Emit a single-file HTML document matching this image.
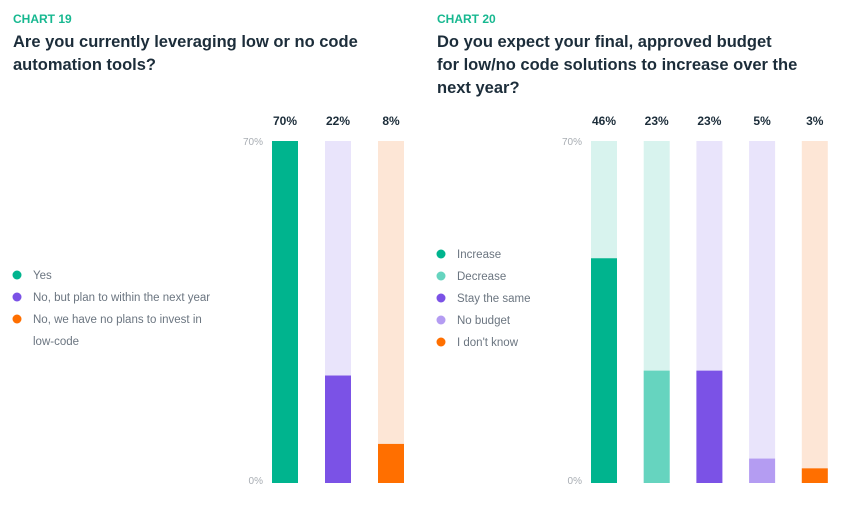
<!DOCTYPE html>
<html><head><meta charset="utf-8"><style>
body{margin:0;background:#fff;}
svg{display:block;font-family:"Liberation Sans",sans-serif;}
</style></head><body>
<svg id="s" width="865" height="510">
<text x="13" y="23" font-size="12" font-weight="bold" fill="#17b890">CHART 19</text>
<text x="13" y="47" font-size="16.5" font-weight="bold" fill="#1c2d3a">Are you currently leveraging low or no code</text>
<text x="13" y="70" font-size="16.5" font-weight="bold" fill="#1c2d3a">automation tools?</text>
<text x="437" y="23" font-size="12" font-weight="bold" fill="#17b890">CHART 20</text>
<text x="437" y="47" font-size="16.5" font-weight="bold" fill="#1c2d3a">Do you expect your final, approved budget</text>
<text x="437" y="70" font-size="16.5" font-weight="bold" fill="#1c2d3a">for low/no code solutions to increase over the</text>
<text x="437" y="93" font-size="16.5" font-weight="bold" fill="#1c2d3a">next year?</text>
</svg>
<script>
const c19Categories=["Yes","No, but plan to within the next year","No, we have no plans to invest in low-code"];
const c19Values=[70,22,8];
const c20Categories=["Increase","Decrease","Stay the same","No budget","I don't know"];
const c20Values=[46,23,23,5,3];
const axisMax=70;
const axisTicks=["70%","0%"];

const svg=document.getElementById('s');
const NS='http://www.w3.org/2000/svg';
function mk(tag,attrs){const e=document.createElementNS(NS,tag);for(const k in attrs)e.setAttribute(k,attrs[k]);svg.appendChild(e);return e;}
const yTop=141,yBot=483;
function yScale(v){return yBot-(v/axisMax)*(yBot-yTop);}

function drawChart(prefix,cats,vals,x0,step,fg,bg,axisX,legendX,legendY,legendLines){
  let t=mk('text',{x:axisX,y:yScale(axisMax)+4,'font-size':10,fill:'#a8adb3','text-anchor':'end'});t.textContent=axisTicks[0];
  
  
  t=mk('text',{x:axisX,y:yScale(0)+1,'font-size':10,fill:'#a8adb3','text-anchor':'end'});t.textContent=axisTicks[1];
  
  
  vals.forEach((v,i)=>{
    const x=x0+i*step;
    let r=mk('rect',{x:x,y:yScale(axisMax),width:26,height:yScale(0)-yScale(axisMax),fill:bg[i]});
    
    
    r=mk('rect',{x:x,y:yScale(v),width:26,height:yScale(0)-yScale(v),fill:fg[i]});
    
    
    const l=mk('text',{x:x+13,y:125,'font-size':12,'font-weight':'bold',fill:'#1c2d3a','text-anchor':'middle'});
    l.textContent=v+'%';
    
    
  });
  let yy=legendY;
  cats.forEach((c,i)=>{
    const d=mk('circle',{cx:legendX,cy:yy,r:4.5,fill:fg[i]});
    
    
    const lines=legendLines[i]||[c];
    lines.forEach((ln,j)=>{
      const tx=mk('text',{x:legendX+16,y:yy+4+j*22,'font-size':11.5,fill:'#6b7580'});
      tx.textContent=ln;
      
      
    });
    yy+=22*lines.length;
  });
}
drawChart('chart-19',c19Categories,c19Values,272,53,
  ['#00b48e','#7b52e6','#ff6f00'],['#00b48e','#e9e4fb','#fde6d6'],
  263,17,275,[null,null,['No, we have no plans to invest in','low-code']]);
drawChart('chart-20',c20Categories,c20Values,591,52.7,
  ['#00b48e','#66d4bf','#7b52e6','#b49cf2','#ff6f00'],['#d8f3ee','#d8f3ee','#e9e4fb','#e9e4fb','#fde6d6'],
  582,441,254,[]);
</script>
</body></html>
